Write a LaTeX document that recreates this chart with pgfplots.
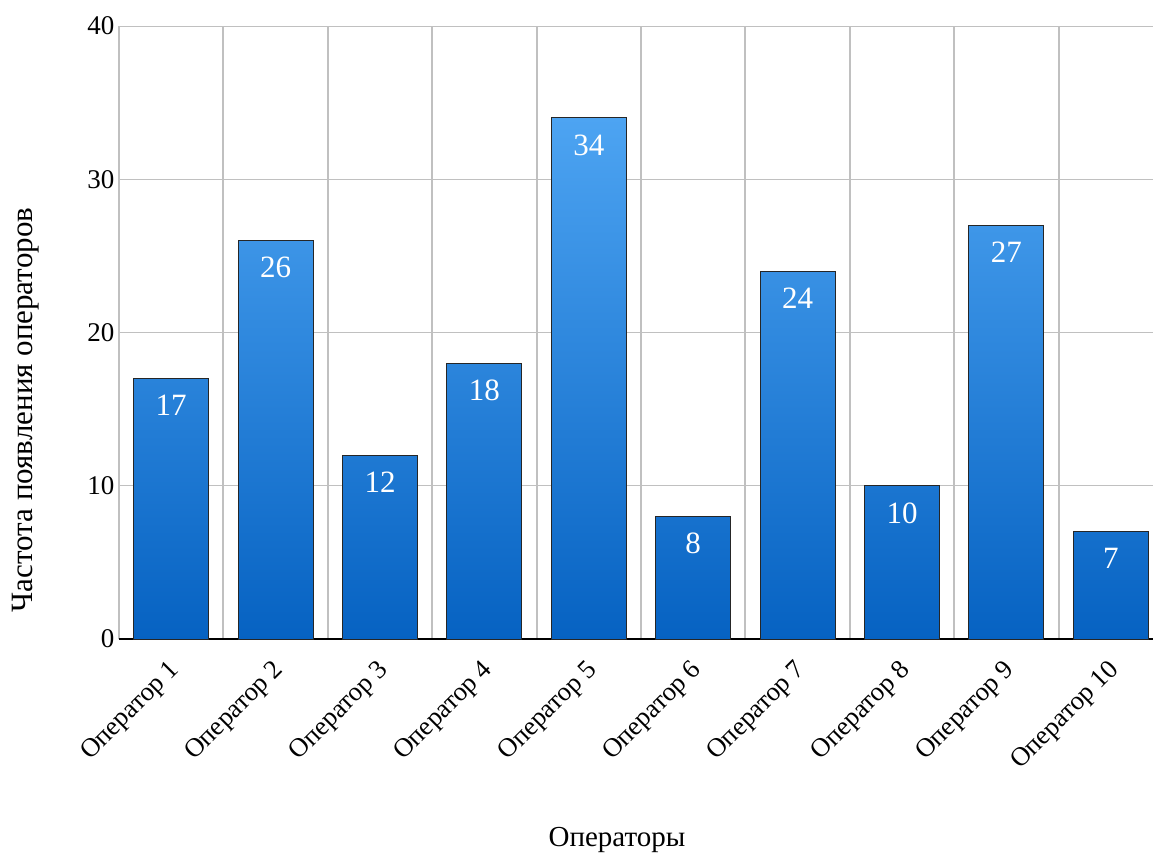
\documentclass[border=0pt]{standalone}
\usepackage{fontspec}
\setmainfont{Liberation Serif}
\usepackage{pgfplots}
\pgfplotsset{compat=1.18}
\definecolor{bartop}{RGB}{77,164,242}
\definecolor{barbot}{RGB}{6,98,194}
\definecolor{gridgray}{RGB}{192,192,192}
\begin{document}
\begin{tikzpicture}
\useasboundingbox (0,0) rectangle (1153pt,852pt);
\begin{axis}[
  at={(119pt,213pt)}, anchor=south west,
  scale only axis, width=1034pt, height=613pt,
  xmin=0.5, xmax=10.404, ymin=0, ymax=40,
  clip=false,
  axis line style={draw=none},
  tick style={draw=none},
  ytick={0,10,20,30,40},
  ymajorgrids,
  major grid style={gridgray, line width=1pt},
  xtick={1,...,10},
  xticklabels={Оператор 1,Оператор 2,Оператор 3,Оператор 4,Оператор 5,Оператор 6,Оператор 7,Оператор 8,Оператор 9,Оператор 10},
  minor xtick={0.5,1.5,...,9.5},
  xminorgrids,
  minor grid style={gridgray, line width=2pt},
  extra y ticks={0},
  extra y tick labels={},
  extra y tick style={ymajorgrids, major grid style={black, line width=1.5pt}},
  /pgf/number format/assume math mode=true,
  yticklabel style={font=\fontsize{27}{27}\selectfont, xshift=-1pt},
  xticklabel style={font=\fontsize{26.5}{26.5}\selectfont, yshift=-26pt, xshift=6pt, rotate=45, anchor=east, inner sep=2pt},
  ylabel={Частота появления операторов},
  xlabel={Операторы},
  every axis y label/.style={at={(rel axis cs:-0.0905,0.3736)}, rotate=90, anchor=center, font=\fontsize{31}{31}\selectfont},
  every axis x label/.style={at={(rel axis cs:0.4816,-0.3393)}, anchor=base, font=\fontsize{29}{29}\selectfont},
]
\addplot[ybar, bar width=0.718, draw=black!85, line width=1pt,
  top color=bartop, bottom color=barbot,
  nodes near coords,
  every node near coord/.append style={anchor=north, text=white, yshift=-13pt, font=\fontsize{31}{31}\selectfont}]
coordinates {(1,17) (2,26) (3,12) (4,18) (5,34) (6,8) (7,24) (8,10) (9,27) (10,7)};
\end{axis}
\end{tikzpicture}
\end{document}
